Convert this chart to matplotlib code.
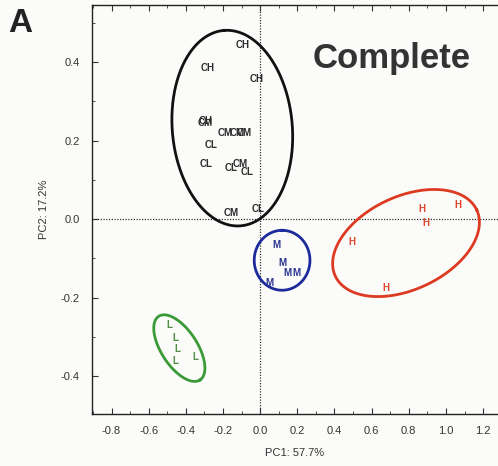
import numpy as np
import matplotlib
matplotlib.use("Agg")
import matplotlib.pyplot as plt
from matplotlib.ticker import MultipleLocator

plt.rcParams['font.family'] = ['Liberation Sans', 'DejaVu Sans']

# sample scores (PC1, PC2)
ch_x = [-0.097, -0.285, -0.020, -0.296]
ch_y = [0.444, 0.385, 0.357, 0.250]
cm_x = [-0.296, -0.190, -0.125, -0.085, -0.108, -0.156]
cm_y = [0.244, 0.219, 0.219, 0.219, 0.140, 0.015]
cl_x = [-0.263, -0.290, -0.156, -0.070, -0.010]
cl_y = [0.189, 0.140, 0.130, 0.120, 0.025]
m_x = [0.086, 0.118, 0.145, 0.194, 0.048]
m_y = [-0.066, -0.112, -0.138, -0.138, -0.163]
h_x = [0.871, 0.892, 1.065, 0.495, 0.677]
h_y = [0.026, -0.010, 0.036, -0.059, -0.176]
l_x = [-0.489, -0.457, -0.446, -0.457, -0.349]
l_y = [-0.270, -0.304, -0.332, -0.362, -0.352]

# confidence ellipses: centre, semi-axes (PC1 units on screen), angle in degrees
ell_centre = {'C': (-0.150, 0.232), 'M': (0.118, -0.105), 'H': (0.785, -0.061), 'L': (-0.435, -0.329)}
ell_axes = {'C': (0.527, 0.323), 'M': (0.161, 0.150), 'H': (0.420, 0.250), 'L': (0.204, 0.097)}
ell_angle = {'C': 95, 'M': 90, 'H': 25, 'L': -57}

col_c = '#2b2b2b'
col_m = '#2a3592'
col_h = '#e0452e'
col_l = '#4f8f45'
ell_col = {'C': '#111111', 'M': '#1d2a9c', 'H': '#dd3a22', 'L': '#3a9a38'}

xmin, xmax = -0.905, 1.28
ymin, ymax = -0.497, 0.546

fig = plt.figure(figsize=(4.98, 4.66), dpi=100)
fig.set_facecolor('#fbfbf9')
ax = fig.add_axes([92/498, 52/466, 1 - 92/498, (414-5)/466])
ax.set_facecolor('#fbfbf9')
ax.set_xlim(xmin, xmax)
ax.set_ylim(ymin, ymax)

# screen aspect: y units per x unit
k = 392.0 / 186.0
t = np.linspace(0, 2*np.pi, 300)
for g in ['C', 'M', 'H', 'L']:
    cx, cy = ell_centre[g]
    a, b = ell_axes[g]
    th = np.deg2rad(ell_angle[g])
    u = a*np.cos(t)*np.cos(th) - b*np.sin(t)*np.sin(th)
    v = a*np.cos(t)*np.sin(th) + b*np.sin(t)*np.cos(th)
    ax.plot(cx + u, cy + v/k, color=ell_col[g], lw=2.0, zorder=3)

ax.axvline(0, color='#333333', lw=0.9, ls=(0, (1, 1.2)), zorder=1)
ax.axhline(0, color='#333333', lw=0.9, ls=(0, (1, 1.2)), zorder=1)

def put(xs, ys, lab, c):
    for x, y in zip(xs, ys):
        ax.text(x, y, lab, color=c, fontsize=7, fontweight='bold',
                ha='center', va='center', zorder=4)

put(ch_x, ch_y, 'CH', col_c)
put(cm_x, cm_y, 'CM', col_c)
put(cl_x, cl_y, 'CL', col_c)
put(m_x, m_y, 'M', col_m)
put(h_x, h_y, 'H', col_h)
put(l_x, l_y, 'L', col_l)

ax.text(0.285, 0.41, 'Complete', fontsize=25, fontweight='bold',
        color='#333333', ha='left', va='center')
fig.text(8/498, 1 - 24/466, 'A', fontsize=24, fontweight='bold',
         color='#222222', ha='left', va='center')

ax.xaxis.set_minor_locator(MultipleLocator(0.1))
ax.yaxis.set_minor_locator(MultipleLocator(0.1))
xt = np.arange(-0.8, 1.21, 0.2)
yt = np.arange(-0.4, 0.41, 0.2)
ax.set_xticks(xt)
ax.set_xticklabels(['%.1f' % v if abs(v) > 1e-9 else '0.0' for v in xt])
ax.set_yticks(yt)
ax.set_yticklabels(['%.1f' % v if abs(v) > 1e-9 else '0.0' for v in yt])
ax.tick_params(which='both', direction='in', top=True, right=False,
               labelsize=8, colors='#333333', pad=9)
ax.tick_params(which='major', length=4, width=0.8)
ax.tick_params(which='minor', length=2, width=0.6)
ax.spines['right'].set_visible(False)
for s in ['left', 'bottom', 'top']:
    ax.spines[s].set_linewidth(1.0)
    ax.spines[s].set_color('#222222')

ax.set_xlabel('PC1: 57.7%', fontsize=8, color='#333333', labelpad=8)
ax.set_ylabel('PC2: 17.2%', fontsize=8, color='#333333', labelpad=8)

fig.savefig('out.png', dpi=100, facecolor=fig.get_facecolor())
